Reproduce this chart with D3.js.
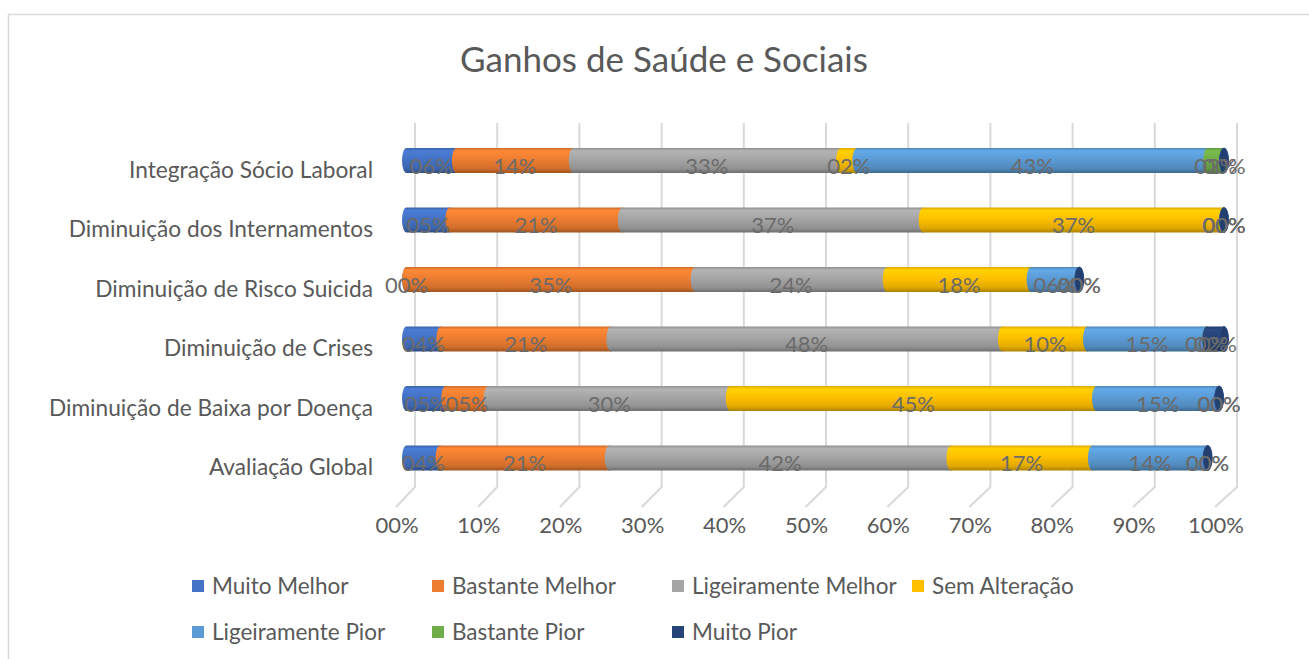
<!DOCTYPE html>
<html>
<head>
<meta charset="utf-8" />
<style>

body {
    margin: 0;
    background-color: #fff;
}

text {
    font-family: Lato, "Open Sans", sans-serif;
    fill: #595959;
}

</style>
<title>Ganhos de Saúde e Sociais</title>
</head>

<body>
<div id="chart"></div>

<script src="https://d3js.org/d3.v7.min.js"></script>
<script>

var width = 1309, height = 659;

// categories, top to bottom
var categories = ["Integração Sócio Laboral", "Diminuição dos Internamentos", "Diminuição de Risco Suicida",
                  "Diminuição de Crises", "Diminuição de Baixa por Doença", "Avaliação Global"];

var seriesNames = ["Muito Melhor", "Bastante Melhor", "Ligeiramente Melhor", "Sem Alteração",
                   "Ligeiramente Pior", "Bastante Pior", "Muito Pior"];
var seriesColors = ["#4472C4", "#ED7D31", "#A5A5A5", "#FFC000", "#5B9BD5", "#70AD47", "#264478"];

// values in %, one array per series, same order as categories
var muitoMelhor        = [6.1, 5.3, 0.0, 4.2, 4.8, 4.1];
var bastanteMelhor     = [14.3, 21.1, 35.3, 20.8, 5.2, 20.7];
var ligeiramenteMelhor = [32.7, 36.8, 23.5, 47.9, 29.6, 41.8];
var semAlteracao       = [2.0, 36.8, 17.6, 10.4, 44.8, 17.3];
var ligeiramentePior   = [42.9, 0.0, 5.9, 14.6, 15.0, 14.1];
var bastantePior       = [2.0, 0.0, 0.0, 0.0, 0.0, 0.0];
var muitoPior          = [0.0, 0.0, 0.0, 2.1, 0.0, 0.0];

var tickValues = [0, 10, 20, 30, 40, 50, 60, 70, 80, 90, 100];

var seriesValues = [muitoMelhor, bastanteMelhor, ligeiramenteMelhor, semAlteracao,
                    ligeiramentePior, bastantePior, muitoPior];

var svg = d3.select("#chart").append("svg")
        .attr("width", width)
        .attr("height", height);

var defs = svg.append("defs");

// chart border
svg.append("rect")
    .attr("x", 8.5).attr("y", 14.5)
    .attr("width", 1310).attr("height", 660)
    .attr("fill", "none")
    .attr("stroke", "#D9D9D9")
    .attr("stroke-width", 1.5);

// title
svg.append("text")
    .attr("x", 664).attr("y", 72)
    .attr("text-anchor", "middle")
    .style("font-size", "35px")
    .text("Ganhos de Saúde e Sociais");

// scales: bars sit between the front (axis labels) and back wall (gridlines)
var x = d3.scaleLinear().domain([0, 100]).range([406.5, 1224]);
var xBack = d3.scaleLinear().domain([0, 100]).range([415, 1237]);
var xFront = d3.scaleLinear().domain([0, 100]).range([397, 1216]);
var y = d3.scalePoint().domain(categories).range([160.5, 458]);

var fmt = function(v) { return d3.format("02.0f")(v) + "%"; };

// back wall gridlines + floor diagonals
var grid = svg.append("g");
grid.selectAll("path").data(tickValues).enter().append("path")
    .attr("d", function(d) {
        return "M" + xBack(d) + ",123 L" + xBack(d) + ",487 L" + (xFront(d) - 1) + ",507";
    })
    .attr("fill", "none")
    .attr("stroke", "#D9D9D9")
    .attr("stroke-width", 2);

// tick labels
svg.append("g").selectAll("text").data(tickValues).enter().append("text")
    .attr("x", function(d) { return xFront(d); })
    .attr("y", 533)
    .attr("text-anchor", "middle")
    .style("font-size", "22px")
    .text(fmt);

// category labels
svg.append("g").selectAll("text").data(categories).enter().append("text")
    .attr("x", 373)
    .attr("y", function(d) { return y(d) + 17; })
    .attr("text-anchor", "end")
    .style("font-size", "22.7px")
    .text(function(d) { return d; });

// cylinder gradients
seriesColors.forEach(function(c, i) {
    var base = d3.color(c);
    var g = defs.append("linearGradient")
        .attr("id", "grad" + i)
        .attr("x1", 0).attr("y1", 0).attr("x2", 0).attr("y2", 1);
    g.append("stop").attr("offset", "0%").attr("stop-color", base.darker(0.4));
    g.append("stop").attr("offset", "12%").attr("stop-color", base.brighter(0.25));
    g.append("stop").attr("offset", "45%").attr("stop-color", base);
    g.append("stop").attr("offset", "82%").attr("stop-color", base.darker(0.35));
    g.append("stop").attr("offset", "100%").attr("stop-color", base.darker(1.1));
});

var rx = 4.5, ry = 12.5;

// build segments
var segments = [];
categories.forEach(function(cat, ci) {
    var acc = 0;
    seriesValues.forEach(function(vals, si) {
        segments.push({cat: cat, s: si, x0: acc, x1: acc + vals[ci], v: vals[ci]});
        acc += vals[ci];
    });
});

var cylPath = function(d) {
    var a = x(d.x0), b = x(d.x1), cy = y(d.cat);
    var t = cy - ry, bt = cy + ry;
    return "M" + a + "," + t + " L" + b + "," + t +
        " A" + rx + "," + ry + " 0 0 1 " + b + "," + bt +
        " L" + a + "," + bt +
        " A" + rx + "," + ry + " 0 0 1 " + a + "," + t + "Z";
};

svg.append("g").selectAll("path").data(segments).enter().append("path")
    .attr("d", cylPath)
    .attr("fill", function(d) { return "url(#grad" + d.s + ")"; });

// end caps of each bar
var caps = categories.map(function(cat) {
    return segments.filter(function(d) { return d.cat === cat; }).slice(-1)[0];
});
svg.append("g").selectAll("ellipse").data(caps).enter().append("ellipse")
    .attr("cx", function(d) { return x(d.x1); })
    .attr("cy", function(d) { return y(d.cat); })
    .attr("rx", rx).attr("ry", ry)
    .attr("fill", function(d) { return d3.color(seriesColors[d.s]).darker(0.2); })
    .attr("stroke", function(d) { return d3.color(seriesColors[d.s]).brighter(0.4); })
    .attr("stroke-width", 1);

// data labels
svg.append("g").selectAll("text").data(segments).enter().append("text")
    .attr("x", function(d) { return (x(d.x0) + x(d.x1)) / 2; })
    .attr("y", function(d) { return y(d.cat) + 13; })
    .attr("text-anchor", "middle")
    .style("font-size", "22px")
    .style("fill", "#6b6b6b")
    .text(function(d) { return fmt(d.v); });

// legend
var legendPos = [[192, 586], [432, 586], [672, 586], [912, 586], [192, 632], [432, 632], [672, 632]];
var legend = svg.append("g").selectAll("g").data(seriesNames).enter().append("g")
    .attr("transform", function(d, i) { return "translate(" + legendPos[i][0] + "," + legendPos[i][1] + ")"; });
legend.append("rect")
    .attr("x", 0).attr("y", -6)
    .attr("width", 12).attr("height", 12)
    .attr("fill", function(d, i) { return seriesColors[i]; });
legend.append("text")
    .attr("x", 20).attr("y", 8)
    .style("font-size", "22.5px")
    .text(function(d) { return d; });

</script>
</body>
</html>
